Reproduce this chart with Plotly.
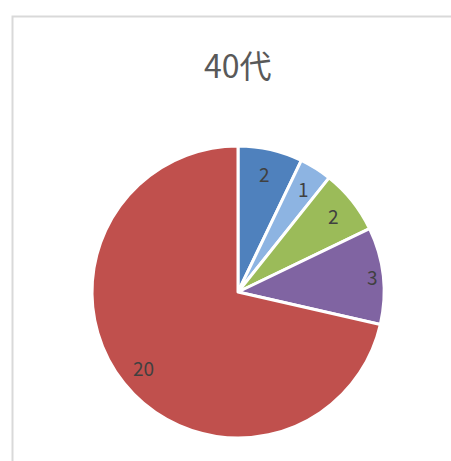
import math
import plotly.graph_objects as go

W, H = 451, 461
title = "40代"
labels = ["A", "B", "C", "D", "E"]
values = [2, 1, 2, 3, 20]
colors = ["#4F81BD", "#8DB4E2", "#9BBB59", "#8064A2", "#C0504D"]

# pie geometry in pixels
cx, cy, R = 238, 292, 146
label_ratio = [0.83, 0.84, 0.84, 0.93, 0.83]

fig = go.Figure(go.Pie(
    labels=labels, values=values, sort=False, direction="clockwise", rotation=0,
    marker=dict(colors=colors, line=dict(color="white", width=3)),
    textinfo="none", hoverinfo="label+value",
    domain=dict(x=[(cx - R) / W, (cx + R) / W], y=[1 - (cy + R) / H, 1 - (cy - R) / H]),
    showlegend=False,
))

total = sum(values)
cum = 0
ann = []
for v, r in zip(values, label_ratio):
    mid = (cum + v / 2) / total * 2 * math.pi
    cum += v
    px = cx + math.sin(mid) * R * r
    py = cy - math.cos(mid) * R * r
    ann.append(dict(x=px / W, y=1 - py / H, xref="paper", yref="paper", text=str(v),
                    xanchor="center", yanchor="middle",
                    showarrow=False, font=dict(size=19, color="#404040",
                                               family="Noto Sans CJK JP, sans-serif")))
ann.append(dict(x=238 / W, y=1 - 64 / H, xref="paper", yref="paper", text=title,
                xanchor="center", yanchor="middle",
                showarrow=False, font=dict(size=32, color="#595959",
                                           family="Noto Sans CJK JP, sans-serif")))

fig.update_layout(
    width=W, height=H, margin=dict(l=0, r=0, t=0, b=0),
    paper_bgcolor="white", plot_bgcolor="white",
    annotations=ann,
    shapes=[dict(type="rect", xref="paper", yref="paper", x0=12.5 / W, x1=1.1,
                 y0=-0.1, y1=1 - 16.5 / H, line=dict(color="#D9D9D9", width=2))],
)
fig.write_html("out.html", config={"displayModeBar": False},
               post_script="document.body.style.margin='0';document.body.style.overflow='hidden';")
